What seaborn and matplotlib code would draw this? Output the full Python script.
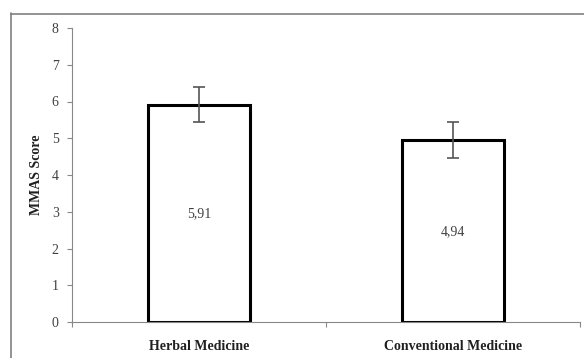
import matplotlib.pyplot as plt
import pandas as pd
import seaborn as sns
from matplotlib.lines import Line2D

categories = ["Herbal Medicine", "Conventional Medicine"]
scores = [5.91, 4.94]
errors = [0.48, 0.49]
value_labels = ["5,91", "4,94"]

sns.set_theme(style="white")
plt.rcParams["font.family"] = ["Liberation Serif", "DejaVu Serif"]

df = pd.DataFrame({"group": categories, "score": scores})

W, H = 584, 358
fig = plt.figure(figsize=(W / 100, H / 100), dpi=100)
ax = fig.add_axes([72 / W, 1 - 322 / H, (580 - 72) / W, (322 - 28) / H])

sns.barplot(data=df, x="group", y="score", ax=ax, width=0.4,
            color="white", edgecolor="black", linewidth=2.2, errorbar=None)
ax.errorbar(range(len(scores)), scores, yerr=errors, fmt="none",
            ecolor="#555555", elinewidth=1.2, capsize=4, capthick=1.2)

for i, (v, lab) in enumerate(zip(scores, value_labels)):
    ax.text(i, v / 2, lab, ha="center", va="center", fontsize=10,
            color="#404040")

ax.set_xlim(-0.5, 1.5)
ax.set_ylim(0, 8)
ax.set_yticks(range(0, 9))
ax.set_xlabel("")
ax.set_ylabel("MMAS Score", fontsize=10, fontweight="bold", color="#202020",
              labelpad=6)
ax.tick_params(axis="y", labelsize=10, labelcolor="#404040", length=3.6,
               width=0.8, color="#888888", direction="out", left=True, pad=6)
ax.set_xticks([0, 1])
ax.set_xticklabels(categories, fontsize=10, fontweight="bold",
                   color="#202020")
ax.tick_params(axis="x", length=0, pad=13)
ax.set_xticks([-0.5, 0.5, 1.5], minor=True)
ax.tick_params(axis="x", which="minor", length=3.6, width=0.8,
               color="#888888", direction="out", bottom=True)

for s in ["top", "right"]:
    ax.spines[s].set_visible(False)
for s in ["left", "bottom"]:
    ax.spines[s].set_color("#888888")
    ax.spines[s].set_linewidth(0.8)

# outer chart frame (cut off on right and bottom)
fig.add_artist(Line2D([10.5 / W, 10.5 / W], [0, 1 - 13 / H],
                      transform=fig.transFigure, color="#808080", lw=1.2))
fig.add_artist(Line2D([10.5 / W, 1], [1 - 13.5 / H, 1 - 13.5 / H],
                      transform=fig.transFigure, color="#808080", lw=1.2))

fig.savefig("out.png", dpi=100)
